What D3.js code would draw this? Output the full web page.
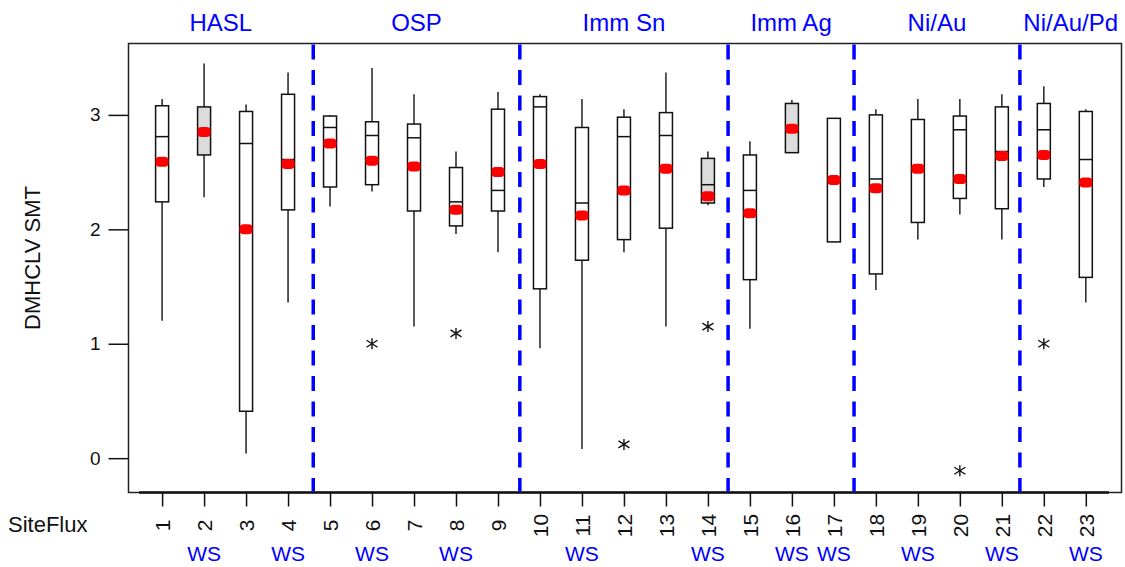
<!DOCTYPE html>
<html>
<head>
<meta charset="utf-8">
<script src="https://cdn.jsdelivr.net/npm/d3@7"></script>
<style>
  html, body { margin: 0; padding: 0; background: #fff; }
  svg { display: block; font-family: Arial, "Liberation Sans", sans-serif; }
</style>
</head>
<body>
<svg id="chart" width="1125" height="567"></svg>
<script>
// SiteFlux index for each box
const sites = d3.range(1, 24);
// Five-number summaries per site (whisker low, Q1, median, Q3, whisker high)
const whiskerLow  = [1.20, 2.28, 0.04, 1.36, 2.20, 2.33, 1.15, 1.96, 1.80, 0.96, 0.08, 1.80, 1.15, 2.21, 1.13, 2.67, 1.89, 1.47, 1.91, 2.13, 1.91, 2.37, 1.36];
const q1          = [2.24, 2.65, 0.41, 2.17, 2.37, 2.39, 2.16, 2.03, 2.16, 1.48, 1.73, 1.91, 2.01, 2.23, 1.56, 2.67, 1.89, 1.61, 2.06, 2.27, 2.18, 2.44, 1.58];
const medians     = [2.81, 2.85, 2.75, 2.61, 2.89, 2.82, 2.80, 2.24, 2.34, 3.07, 2.23, 2.81, 2.82, 2.39, 2.34, 2.85, 2.41, 2.44, 2.53, 2.87, 2.68, 2.87, 2.61];
const q3          = [3.08, 3.07, 3.03, 3.18, 2.99, 2.94, 2.92, 2.54, 3.05, 3.16, 2.89, 2.98, 3.02, 2.62, 2.65, 3.10, 2.97, 3.00, 2.96, 2.99, 3.07, 3.10, 3.03];
const whiskerHigh = [3.14, 3.45, 3.09, 3.37, 3.00, 3.41, 3.18, 2.68, 3.20, 3.18, 3.14, 3.05, 3.37, 2.68, 2.77, 3.13, 2.97, 3.05, 3.14, 3.14, 3.18, 3.25, 3.05];
// Mean of each site
const means       = [2.59, 2.85, 2.00, 2.57, 2.75, 2.60, 2.55, 2.17, 2.50, 2.57, 2.12, 2.34, 2.53, 2.29, 2.14, 2.88, 2.43, 2.36, 2.53, 2.44, 2.64, 2.65, 2.41];
// Sites drawn with a shaded box
const shadedSites = [2, 14, 16];
// Outlying observations [site, value]
const outliers = [[6, 1.00], [8, 1.09], [12, 0.12], [14, 1.15], [20, -0.11], [22, 1.00]];

// Finish groups and the site positions separating them
const groupNames = ["HASL", "OSP", "Imm Sn", "Imm Ag", "Ni/Au", "Ni/Au/Pd"];
const groupDividers = [4.6, 9.52, 14.48, 17.48, 21.43];
// Sites run with the WS flux
const wsSites = [2, 4, 6, 8, 11, 14, 16, 17, 19, 21, 23];

const yTicks = [0, 1, 2, 3];
const yLabel = "DMHCLV SMT";
const xLabel = "SiteFlux";

const svg = d3.select("#chart");
const plotL = 128.5, plotR = 1121.5, plotT = 43.5, plotB = 492.5;

const x = d3.scaleLinear().domain([0.2, 23.85]).range([plotL, plotR]);
const y = d3.scaleLinear().domain([-0.3, 3.624]).range([plotB, plotT]);

const font = "Arial, 'Liberation Sans', sans-serif";

// Plot frame
svg.append("rect")
  .attr("x", plotL).attr("y", plotT)
  .attr("width", plotR - plotL).attr("height", plotB - plotT)
  .attr("fill", "none").attr("stroke", "#222").attr("stroke-width", 1.5);

// Y axis
const yAxis = d3.axisLeft(y).tickValues(yTicks).tickSize(20).tickPadding(8).tickFormat(d3.format("d"));
svg.append("g")
  .attr("transform", `translate(${plotL},0)`)
  .call(yAxis)
  .call(g => g.select(".domain").remove())
  .call(g => g.selectAll("line").attr("stroke", "#111").attr("stroke-width", 1.5))
  .call(g => g.selectAll("text").attr("font-size", 19).attr("font-family", font).attr("fill", "#111"));

// X axis with vertical site numbers
const xAxis = d3.axisBottom(x).tickValues(sites).tickSize(14).tickFormat(d3.format("d"));
svg.append("g")
  .attr("transform", `translate(0,${plotB})`)
  .call(xAxis)
  .call(g => g.select(".domain").remove())
  .call(g => g.selectAll("line").attr("stroke", "#111").attr("stroke-width", 1.5))
  .call(g => g.selectAll("text")
    .attr("font-size", 21).attr("font-family", font).attr("fill", "#111")
    .attr("dy", null)
    .attr("y", 0)
    .attr("text-anchor", "middle")
    .attr("dominant-baseline", "central")
    .attr("transform", "translate(0,33) rotate(-90)"));

// Bottom axis line
svg.append("line")
  .attr("x1", x(0.45)).attr("x2", x(23.55))
  .attr("y1", plotB).attr("y2", plotB)
  .attr("stroke", "#111").attr("stroke-width", 2.5);

// Group dividers
svg.append("g").selectAll("line")
  .data(groupDividers)
  .join("line")
  .attr("x1", d => x(d)).attr("x2", d => x(d))
  .attr("y1", plotT + 1).attr("y2", plotB - 1)
  .attr("stroke", "#0000ff").attr("stroke-width", 3.5)
  .attr("stroke-dasharray", "15,10.5");

// Group titles, centred between the dividers
const bounds = [0.2, ...groupDividers, 23.85];
svg.append("g").selectAll("text")
  .data(groupNames)
  .join("text")
  .attr("x", (d, i) => (x(bounds[i]) + x(bounds[i + 1])) / 2)
  .attr("y", 31)
  .attr("text-anchor", "middle")
  .attr("font-size", 24).attr("font-family", font)
  .attr("fill", "#0000ff")
  .text(d => d);

// Boxes
const boxW = 13;
const boxes = svg.append("g").selectAll("g")
  .data(sites.map((s, i) => ({
    site: s, lo: whiskerLow[i], q1: q1[i], med: medians[i], q3: q3[i], hi: whiskerHigh[i], mean: means[i]
  })))
  .join("g");

boxes.append("line")
  .attr("x1", d => x(d.site)).attr("x2", d => x(d.site))
  .attr("y1", d => y(d.hi)).attr("y2", d => y(d.q3))
  .attr("stroke", "#222").attr("stroke-width", 1.5);
boxes.append("line")
  .attr("x1", d => x(d.site)).attr("x2", d => x(d.site))
  .attr("y1", d => y(d.q1)).attr("y2", d => y(d.lo))
  .attr("stroke", "#222").attr("stroke-width", 1.5);
boxes.append("rect")
  .attr("x", d => x(d.site) - boxW / 2)
  .attr("y", d => y(d.q3))
  .attr("width", boxW)
  .attr("height", d => y(d.q1) - y(d.q3))
  .attr("fill", d => shadedSites.includes(d.site) ? "#dcdcdc" : "#fff")
  .attr("stroke", "#111").attr("stroke-width", 1.5);
boxes.append("line")
  .attr("x1", d => x(d.site) - boxW / 2).attr("x2", d => x(d.site) + boxW / 2)
  .attr("y1", d => y(d.med)).attr("y2", d => y(d.med))
  .attr("stroke", "#111").attr("stroke-width", 1.5);
// Mean markers
boxes.append("rect")
  .attr("x", d => x(d.site) - 6.5)
  .attr("y", d => y(d.mean) - 5)
  .attr("width", 13).attr("height", 10)
  .attr("rx", 4).attr("ry", 4)
  .attr("fill", "#ff0000");

// Outliers drawn as asterisks
const star = "M0,-5.5L0,5.5M-5.5,-3.5L5.5,3.5M-5.5,3.5L5.5,-3.5";
svg.append("g").selectAll("path")
  .data(outliers)
  .join("path")
  .attr("transform", d => `translate(${x(d[0])},${y(d[1])})`)
  .attr("d", star)
  .attr("fill", "none").attr("stroke", "#111").attr("stroke-width", 1.4);

// WS flux markers under the site numbers
svg.append("g").selectAll("text")
  .data(wsSites)
  .join("text")
  .attr("x", d => x(d))
  .attr("y", 561)
  .attr("text-anchor", "middle")
  .attr("font-size", 21).attr("font-family", font)
  .attr("fill", "#0000ff")
  .text("WS");

// Axis titles
svg.append("text")
  .attr("x", 8).attr("y", 532)
  .attr("font-size", 22).attr("font-family", font).attr("fill", "#111")
  .text(xLabel);

svg.append("text")
  .attr("transform", `translate(40,258) rotate(-90)`)
  .attr("text-anchor", "middle")
  .attr("font-size", 22).attr("font-family", font).attr("fill", "#111")
  .text(yLabel);
</script>
</body>
</html>
